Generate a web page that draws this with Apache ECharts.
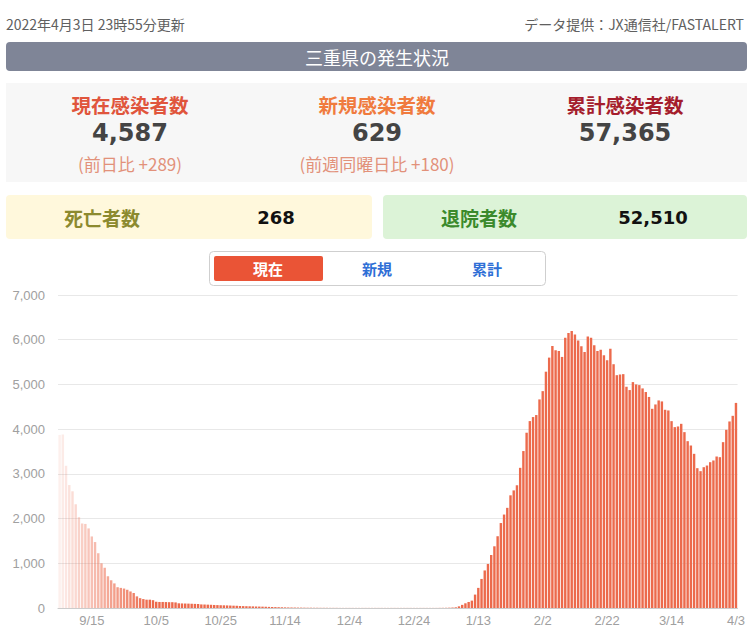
<!DOCTYPE html>
<html>
<head>
<meta charset="utf-8">
<script src="https://cdn.jsdelivr.net/npm/echarts@6/dist/echarts.min.js"></script>
<style>
html,body{margin:0;padding:0;background:#fff;}
#main{width:748px;height:630px;}
</style>
</head>
<body>
<div id="main"></div>
<script>
// ---- data ----
var startMonth = 9, startDay = 5, startYear = 2021, dayCount = 211;
var values = [
3870,3880,3180,2750,2610,2320,2030,1890,1880,1780,
1600,1475,1225,1000,900,710,620,550,465,450,
435,408,370,335,260,220,200,186,186,175,
140,135,135,133,130,130,125,
105,102,100,98,95,92,90,
80,78,75,72,
68,65,62,60,58,55,52,50,
45,42,40,38,36,34,32,30,28,
25,22,20,18,16,14,12,11,10,9,
8,7,6,6,5,5,4,4,4,3,3,3,
2,2,2,2,2,2,2,2,2,2,2,2,2,2,2,2,2,2,2,2,2,2,2,2,2,2,2,2,2,2,2,
3,4,5,7,10,
15,37,70,105,135,165,300,450,650,840,
985,1185,1380,1605,1900,2090,2240,2520,2630,2745,
3135,3510,3920,4180,4270,4315,4665,4850,5285,5600,
5860,5763,5748,5615,6044,6148,6193,6119,5985,5852,
5726,6074,6044,5874,5748,5778,5652,5541,5800,5452,
5207,5222,5230,4948,4874,5052,5000,4985,4911,4830,
4720,4455,4552,4642,4620,4433,4418,4179,4045,4060,
4119,3933,3731,3634,3448,3127,3060,3149,3186,3261,
3299,3388,3373,3709,3985,4172,4298,4587
];
var yTicks = [0,1000,2000,3000,4000,5000,6000,7000];
var updatedText = '2022年4月3日 23時55分更新';
var sourceText = 'データ提供：JX通信社/FASTALERT';
var titleText = '三重県の発生状況';
var statLabels = ['現在感染者数','新規感染者数','累計感染者数'];
var statValues = ['4,587','629','57,365'];
var statSubs = ['(前日比 +289)','(前週同曜日比 +180)',''];
var subLabels = ['死亡者数','退院者数'];
var subValues = ['268','52,510'];
var tabLabels = ['現在','新規','累計'];

// categories (consecutive days)
var categories = [];
(function(){
  var d = new Date(startYear, startMonth-1, startDay);
  for (var i=0;i<dayCount;i++){
    categories.push((d.getMonth()+1)+'/'+d.getDate());
    d.setDate(d.getDate()+1);
  }
})();

var FONT = '"Noto Sans CJK JP","Noto Sans",sans-serif';
var NUMFONT = '"DejaVu Sans",sans-serif';
var barData = values.map(function(v,i){
  var op = Math.min(1, 0.1 + 0.9*i/28);
  return {value:v, itemStyle:{opacity:op}};
});

var statX = [130,377,625];
var statColors = ['#e0553c','#f07b3e','#a51d2d'];
var graphics = [
  {type:'text', left:6, top:17, style:{text:updatedText, fill:'#606060', font:'14px '+FONT}},
  {type:'text', right:4, top:17, style:{text:sourceText, fill:'#606060', font:'14px '+FONT}},
  {type:'rect', shape:{x:6,y:42,width:741,height:29,r:4}, style:{fill:'#7f8597'}},
  {type:'text', x:377, y:56.5, style:{text:titleText, fill:'#fff', font:'18px '+FONT, textAlign:'center', textVerticalAlign:'middle'}},
  {type:'rect', shape:{x:6,y:83,width:741,height:99}, style:{fill:'#f7f7f7'}},
  {type:'rect', shape:{x:6,y:195,width:366,height:44,r:4}, style:{fill:'#fff8dc'}},
  {type:'rect', shape:{x:383,y:195,width:364,height:44,r:4}, style:{fill:'#dcf3d7'}},
  {type:'rect', shape:{x:209.5,y:251.5,width:336,height:34,r:4}, style:{fill:'#fff', stroke:'#cfcfcf', lineWidth:1}},
  {type:'rect', shape:{x:214,y:256,width:109,height:25,r:2}, style:{fill:'#ea5436'}}
];
for (var k=0;k<3;k++){
  graphics.push({type:'text', x:statX[k], y:104, style:{text:statLabels[k], fill:statColors[k], font:'bold 19.5px '+FONT, textAlign:'center', textVerticalAlign:'middle'}});
  graphics.push({type:'text', x:statX[k], y:133, style:{text:statValues[k], fill:'#444', font:'bold 24px '+NUMFONT, textAlign:'center', textVerticalAlign:'middle'}});
  if (statSubs[k]) graphics.push({type:'text', x:statX[k], y:163, style:{text:statSubs[k], fill:'#e2917a', font:'17px '+FONT, textAlign:'center', textVerticalAlign:'middle'}});
}
graphics.push({type:'text', x:102, y:217, style:{text:subLabels[0], fill:'#8c8a2f', font:'bold 19px '+FONT, textAlign:'center', textVerticalAlign:'middle'}});
graphics.push({type:'text', x:276, y:217, style:{text:subValues[0], fill:'#111', font:'bold 18px '+NUMFONT, textAlign:'center', textVerticalAlign:'middle'}});
graphics.push({type:'text', x:479, y:217, style:{text:subLabels[1], fill:'#3b8a2c', font:'bold 19px '+FONT, textAlign:'center', textVerticalAlign:'middle'}});
graphics.push({type:'text', x:653, y:217, style:{text:subValues[1], fill:'#111', font:'bold 18px '+NUMFONT, textAlign:'center', textVerticalAlign:'middle'}});
var tabX = [268,377,487];
for (var t=0;t<3;t++){
  graphics.push({type:'text', x:tabX[t], y:268.5, style:{text:tabLabels[t], fill:t===0?'#fff':'#2f6fd6', font:'bold 15px '+FONT, textAlign:'center', textVerticalAlign:'middle'}});
}

var chart = echarts.init(document.getElementById('main'), null, {renderer:'svg'});
chart.setOption({
  animation:false,
  grid:{left:58,right:10,top:295,bottom:22},
  xAxis:{
    type:'category', data:categories,
    axisLine:{lineStyle:{color:'#cccccc'}},
    axisTick:{show:false},
    axisLabel:{
      color:'#a0a0a0', fontSize:13, margin:6, fontFamily:'Arial, "Liberation Sans", sans-serif',
      interval:function(idx){ return (dayCount-1-idx)%20===0; },
      hideOverlap:false
    }
  },
  yAxis:{
    type:'value', min:yTicks[0], max:yTicks[yTicks.length-1], interval:yTicks[1]-yTicks[0],
    axisLine:{show:false}, axisTick:{show:false},
    axisLabel:{color:'#a0a0a0', fontSize:13, margin:13, fontFamily:'Arial, "Liberation Sans", sans-serif',
      formatter:function(v){ return v.toLocaleString('en-US'); }},
    splitLine:{lineStyle:{color:'#e8e8e8'}}
  },
  series:[{
    type:'bar', data:barData, barCategoryGap:'25%',
    itemStyle:{color:'#ec6a4c'}
  }],
  graphic:graphics
});
</script>
</body>
</html>
